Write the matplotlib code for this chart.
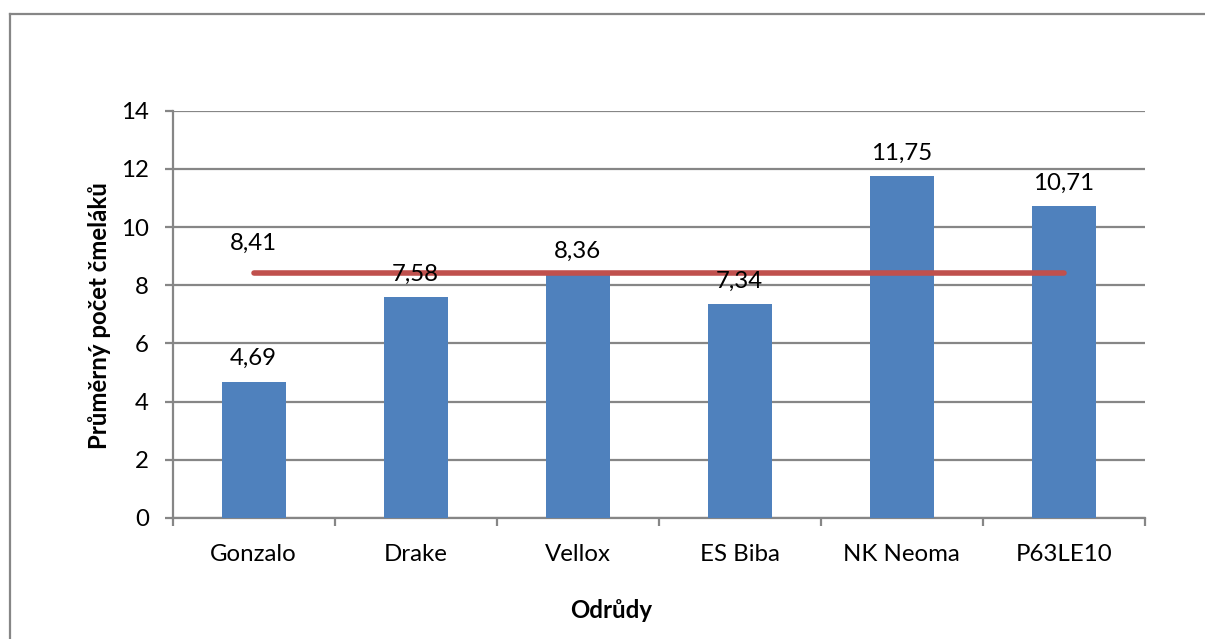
import matplotlib
matplotlib.use("Agg")
import matplotlib.pyplot as plt
from matplotlib.lines import Line2D
from matplotlib.ticker import FixedLocator, NullFormatter

categories = ["Gonzalo", "Drake", "Vellox", "ES Biba", "NK Neoma", "P63LE10"]
values = [4.69, 7.58, 8.36, 7.34, 11.75, 10.71]
average = 8.41
value_labels = ["4,69", "7,58", "8,36", "7,34", "11,75", "10,71"]
average_label = "8,41"
yticks = [0, 2, 4, 6, 8, 10, 12, 14]

plt.rcParams['font.family'] = ['Lato', 'DejaVu Sans']

W, H = 1205, 639
fig = plt.figure(figsize=(W / 100, H / 100), dpi=100)
ax = fig.add_axes([172.5 / W, 1 - 518 / H, (1145 - 172.5) / W, (518 - 110.7) / H])

grid_c = "#868686"
bar_c = "#4F81BD"
line_c = "#C0504D"
fs = 17.3

x = list(range(len(categories)))
ax.bar(x, values, width=0.395, color=bar_c, zorder=3)
ax.plot([x[0], x[-1]], [average, average], color=line_c, lw=4.0,
        solid_capstyle='round', zorder=4)

for xi, v, lab in zip(x, values, value_labels):
    ax.annotate(lab, (xi, v), xytext=(0, 9), textcoords='offset points',
                ha='center', va='bottom', fontsize=fs, color='black', zorder=5)
ax.annotate(average_label, (x[0], average), xytext=(0, 14), textcoords='offset points',
            ha='center', va='bottom', fontsize=fs, color='black', zorder=5)

ax.set_xlim(-0.5, len(categories) - 0.5)
ax.set_ylim(0, 14)
ax.set_yticks(yticks)
ax.set_yticklabels([str(t) for t in yticks])
ax.yaxis.grid(True, color=grid_c, lw=1.6, zorder=0)
ax.set_axisbelow(True)

ax.set_xticks(x)
ax.set_xticklabels(categories)
ax.xaxis.set_minor_locator(FixedLocator([i - 0.5 for i in range(len(categories) + 1)]))
ax.xaxis.set_minor_formatter(NullFormatter())
ax.tick_params(axis='x', which='major', length=0, pad=19, labelsize=fs)
ax.tick_params(axis='x', which='minor', length=6, width=1.6, color=grid_c, direction='out')
ax.tick_params(axis='y', which='major', length=6, width=1.6, color=grid_c, pad=11, labelsize=fs)

for s in ['top', 'right']:
    ax.spines[s].set_visible(False)
for s in ['left', 'bottom']:
    ax.spines[s].set_color(grid_c)
    ax.spines[s].set_linewidth(1.6)

fig.text(100 / W, 1 - 316 / H, "Průměrný počet čmeláků", rotation=90,
         ha='center', va='center', fontsize=fs, fontweight='bold')
fig.text(611 / W, 1 - 611 / H, "Odrůdy", ha='center', va='center',
         fontsize=fs, fontweight='bold')

# outer chart frame (top and left edges visible)
fig.add_artist(Line2D([10 / W, 1], [1 - 14 / H, 1 - 14 / H], transform=fig.transFigure,
                      color=grid_c, lw=1.6))
fig.add_artist(Line2D([10 / W, 10 / W], [0, 1 - 14 / H], transform=fig.transFigure,
                      color=grid_c, lw=1.6))

fig.savefig("out.png", dpi=100, facecolor='white')
